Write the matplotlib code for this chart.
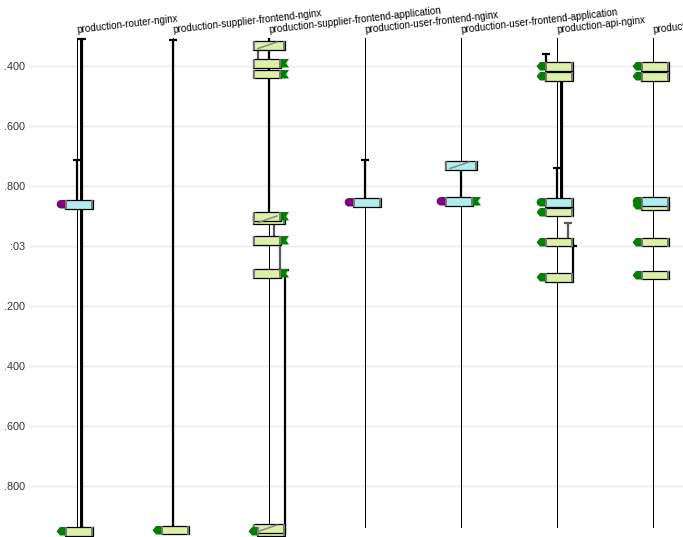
import numpy as np
import matplotlib
matplotlib.use("Agg")
import matplotlib.pyplot as plt
from matplotlib.patches import Rectangle, Polygon

plt.rcParams['font.family'] = ['Liberation Sans', 'DejaVu Sans']

# ---------------- data ----------------
lanes = ["production-router-nginx", "production-supplier-frontend-nginx",
         "production-supplier-frontend-application", "production-user-frontend-nginx",
         "production-user-frontend-application", "production-api-nginx",
         "production-api-application"]
tick_times = [2.4, 2.6, 2.8, 3.0, 3.2, 3.4, 3.6, 3.8]
tick_labels = [".400", ".600", ".800", ":03", ".200", ".400", ".600", ".800"]
lifeline_start = 2.3067
lifeline_end = 3.9367

# activation (narrow white) bars: lane, start, end
act_lane = [0, 5]
act_start = [2.3067, 2.4467]
act_end = [3.9367, 2.8467]

# duration spans: lane, start, end, slot, shade, cap
span_lane = [0, 0, 1, 2, 2, 2, 2, 2, 3, 4, 5, 5, 5, 5, 5]
span_start = [2.310, 2.7133, 2.3133, 2.3067, 2.3433, 2.9233, 2.9933, 3.080,
              2.7133, 2.7433, 2.360, 2.4467, 2.740, 2.9233, 3.000]
span_end = [3.9367, 2.8467, 3.9367, 2.8867, 2.3767, 2.9667, 3.0767, 3.9367,
            2.840, 2.8367, 2.3867, 2.8467, 2.840, 2.9733, 3.090]
span_slot = [1, 0, 0, 0, -2, 1, 2, 3, 0, 0, -2, 1, 0, 2, 3]
span_shade = ["k", "k", "k", "k", "g", "g", "g", "k", "k", "k", "k", "k", "k", "g", "k"]
span_cap = [1, 1, 1, 0, 0, 0, 0, 1, 1, 0, 1, 0, 1, 1, 1]

# annotation boxes: lane, time(top), kind, left icon, right icon, striped
box_lane = [0, 0, 1, 2, 2, 2, 2, 2, 2, 2, 2, 2, 3, 4, 4,
            5, 5, 5, 5, 5, 5, 6, 6, 6, 6, 6, 6]
box_time = [2.8467, 3.9367, 3.9333, 2.3167, 2.3767, 2.4133, 2.8967, 2.8867, 2.9667,
            3.0767, 3.9367, 3.9267, 2.840, 2.7167, 2.8367,
            2.3867, 2.420, 2.840, 2.8733, 2.9733, 3.090,
            2.3867, 2.420, 2.850, 2.8367, 2.9733, 3.0833]
box_kind = ["sr", "cs", "cs", "cs", "cs", "cs", "cs", "cs", "cs", "cs", "cs", "cs", "sr", "sr", "sr",
            "cs", "cs", "sr", "cs", "cs", "cs", "cs", "cs", "cs", "sr", "cs", "cs"]
box_left = ["semi_p", "arrow", "arrow", "", "", "", "", "", "", "", "arrow", "", "semi_p", "", "semi_p",
            "arrow", "arrow", "semi_g", "arrow", "arrow", "arrow",
            "arrow", "arrow", "arrow", "semi_g", "arrow", "arrow"]
box_right = ["", "", "", "", "flag", "flag", "", "flag", "flag", "flag", "", "", "", "", "flag",
             "", "", "", "", "", "", "", "", "", "", "", ""]
box_striped = [0, 0, 0, 1, 0, 0, 1, 0, 0, 0, 0, 1, 0, 1, 0,
               0, 0, 0, 0, 0, 0, 0, 0, 0, 0, 0, 0]

# ---------------- style ----------------
W, H = 683, 537
LANE_PX = 96.0
T_PX = 300.0
fill = {"sr": "#afeeee", "cs": "#ddf0a8"}
shade = {"k": "black", "g": "#5a5a5a"}
slot_px = {-2: -11, 0: 0, 1: 5, 2: 11, 3: 16}

fig = plt.figure(figsize=(W / 100, H / 100), dpi=100)
ax = fig.add_axes([29 / W, 0, (W - 29) / W, (H - 30) / H])
ax.set_xlim(-0.5, (W - 29) / LANE_PX - 0.5)
ax.set_ylim(2.4 + (H - 66) / T_PX, 2.4 - 36 / T_PX)
for s in ax.spines.values():
    s.set_visible(False)
ax.set_xticks([])
ax.set_yticks(tick_times)
ax.set_yticklabels(tick_labels, fontsize=7.8, color="#333333")
ax.tick_params(axis="y", length=0, pad=3)
ax.grid(axis="y", color="#e9e9e9", lw=1.0)
ax.set_axisbelow(True)

px = lambda p: p / LANE_PX
pt = lambda p: p / T_PX

# lifelines
for i, name in enumerate(lanes):
    ax.plot([i, i], [lifeline_start, lifeline_end], color="black", lw=0.75, zorder=2)
    ax.annotate(name, xy=(i, lifeline_start), xytext=(0, 3.5), textcoords="offset points",
                ha="left", va="baseline", rotation=6.5, rotation_mode="anchor",
                fontsize=7.1, color="black", annotation_clip=False)

# activation bars
for l, a, b in zip(act_lane, act_start, act_end):
    ax.add_patch(Rectangle((l, a), px(3), b - a, facecolor="white", edgecolor="black",
                           lw=0.7, zorder=3))

# spans
for l, a, b, sl, sh, cap in zip(span_lane, span_start, span_end, span_slot, span_shade, span_cap):
    x = l + px(slot_px[sl])
    c = shade[sh]
    ax.plot([x, x], [a, b], color=c, lw=1.6, zorder=4, solid_capstyle="butt")
    if cap:
        ax.plot([x - px(4), x + px(4)], [a, a], color=c, lw=1.6, zorder=4, solid_capstyle="butt")

# boxes
bh = pt(8.5)
for l, t, k, le, ri, st in zip(box_lane, box_time, box_kind, box_left, box_right, box_striped):
    if st:
        x0, x1 = l + px(-16), l + px(16)
    elif ri:
        x0, x1 = l + px(-16), l + px(12)
    else:
        x0, x1 = l + px(-12), l + px(16)
    ax.add_patch(Rectangle((x0, t), x1 - x0, bh, facecolor=fill[k], edgecolor="black",
                           lw=0.9, zorder=5))
    ax.plot([x0 + px(1), x0 + px(1)], [t + pt(0.8), t + bh - pt(0.8)], color="#777777", lw=1.4, zorder=6)
    ax.plot([x1 - px(1), x1 - px(1)], [t + pt(0.8), t + bh - pt(0.8)], color="#777777", lw=1.4, zorder=6)
    if st:
        ax.plot([x0 + px(5), x1 - px(8)], [t + bh - pt(1), t + pt(1)], color="#888888", lw=1.1, zorder=6)
    m = t + bh / 2
    if le == "arrow":
        pts = [(x0, t), (x0 - px(5), t), (x0 - px(8.5), m), (x0 - px(5), t + bh), (x0, t + bh)]
        ax.add_patch(Polygon(pts, closed=True, facecolor="#008000", edgecolor="none", zorder=7))
    elif le.startswith("semi"):
        col = "#800080" if le == "semi_p" else "#008000"
        ang = np.linspace(np.pi / 2, 3 * np.pi / 2, 20)
        cx = x0 - px(4)
        pts = [(x0, t)] + [(cx + px(4.3) * np.cos(a), m - bh / 2 * np.sin(a)) for a in ang] + [(x0, t + bh)]
        ax.add_patch(Polygon(pts, closed=True, facecolor=col, edgecolor="none", zorder=7))
    if ri == "flag":
        pts = [(x1, t), (x1 + px(8), t), (x1 + px(5), m), (x1 + px(8), t + bh), (x1, t + bh)]
        ax.add_patch(Polygon(pts, closed=True, facecolor="#008000", edgecolor="none", zorder=7))

fig.savefig("out.png", dpi=100)
